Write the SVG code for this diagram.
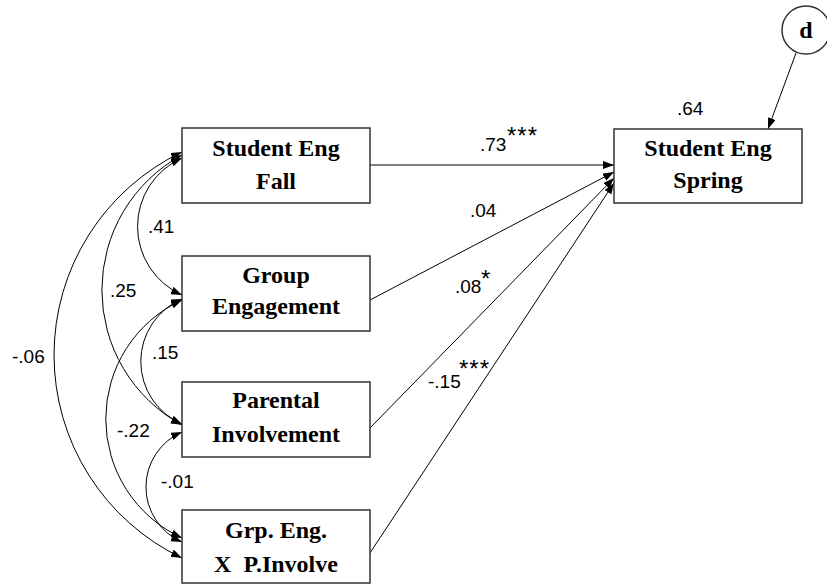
<svg xmlns="http://www.w3.org/2000/svg" width="827" height="586" viewBox="0 0 827 586">
<defs>
<marker id="ah" markerUnits="userSpaceOnUse" markerWidth="12" markerHeight="9" refX="11" refY="4" orient="auto-start-reverse">
<path d="M0,0 L11,4 L0,8 z" fill="#000"/>
</marker>
<style>
.box{fill:#fff;stroke:#333;stroke-width:1.5}
.nt{font-family:"Liberation Serif","Times New Roman",serif;font-weight:bold;font-size:24px;fill:#000;text-anchor:middle}
.lb{font-family:"Liberation Sans",Arial,sans-serif;font-size:19px;fill:#000}
.st{font-family:"Liberation Sans",Arial,sans-serif;font-size:24px;fill:#000}
.cv{fill:none;stroke:#000;stroke-width:1;marker-start:url(#ah);marker-end:url(#ah)}
.ln{fill:none;stroke:#000;stroke-width:1;marker-end:url(#ah)}
</style>
</defs>
<rect width="827" height="586" fill="#fff"/>
<g id="connectors">
<path class="cv" d="M182,158 A75,75 0 0 0 182,295"/>
<path class="cv" d="M182,155 A153.8,153.8 0 0 0 182,425"/>
<path class="cv" d="M182,152 A225,225 0 0 0 182,558"/>
<path class="cv" d="M182,299 A68,68 0 0 0 182,424"/>
<path class="cv" d="M182,300 A131,131 0 0 0 182,538"/>
<path class="cv" d="M182,432 A60,60 0 0 0 182,542"/>
<path class="ln" d="M370,165 L614,165"/>
<path class="ln" d="M370,300 L614,172"/>
<path class="ln" d="M370,428 L614,178"/>
<path class="ln" d="M370,553 L614,183"/>
<path class="ln" d="M796,53 L768,129"/>
</g>
<g id="labels">
<text class="lb" x="148" y="233">.41</text>
<text class="lb" x="110" y="297">.25</text>
<text class="lb" x="12" y="363">-.06</text>
<text class="lb" x="152" y="359">.15</text>
<text class="lb" x="117" y="437">-.22</text>
<text class="lb" x="161" y="488">-.01</text>
<text class="lb" x="480" y="151">.73</text>
<text class="st" x="507" y="144" letter-spacing="1">***</text>
<text class="lb" x="470" y="217">.04</text>
<text class="lb" x="455" y="293">.08</text>
<text class="st" x="481" y="287">*</text>
<text class="lb" x="428" y="388">-.15</text>
<text class="st" x="459" y="377" letter-spacing="1">***</text>
<text class="lb" x="677" y="115">.64</text>
</g>
<g id="fall">
<rect class="box" x="182" y="128" width="188" height="75"/>
<text class="nt" x="276" y="156">Student Eng</text>
<text class="nt" x="276" y="189">Fall</text>
</g>
<g id="group">
<rect class="box" x="182" y="256" width="188" height="75"/>
<text class="nt" x="276" y="283">Group</text>
<text class="nt" x="276" y="314">Engagement</text>
</g>
<g id="parental">
<rect class="box" x="182" y="382" width="188" height="75"/>
<text class="nt" x="276" y="408">Parental</text>
<text class="nt" x="276" y="442">Involvement</text>
</g>
<g id="interaction">
<rect class="box" x="182" y="510" width="188" height="73"/>
<text class="nt" x="276" y="538">Grp. Eng.</text>
<text class="nt" x="276" y="572" xml:space="preserve">X  P.Involve</text>
</g>
<g id="spring">
<rect class="box" x="614" y="129" width="188" height="74"/>
<text class="nt" x="708" y="156">Student Eng</text>
<text class="nt" x="708" y="188">Spring</text>
</g>
<g id="d">
<circle cx="806" cy="30" r="24" fill="#fff" stroke="#333" stroke-width="1.5"/>
<text class="nt" x="806" y="38">d</text>
</g>
</svg>
